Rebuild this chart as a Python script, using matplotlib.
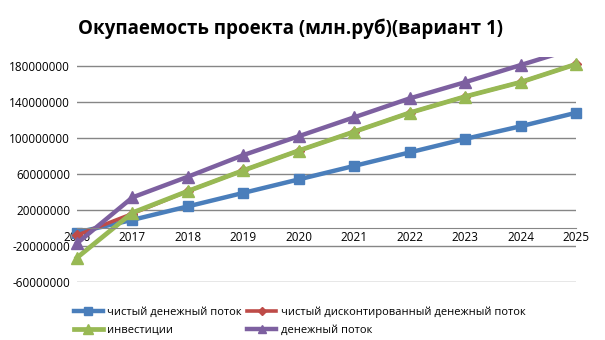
import numpy as np
import matplotlib
matplotlib.use('Agg')
import matplotlib.pyplot as plt
from matplotlib.patches import Rectangle
from matplotlib.ticker import FuncFormatter

plt.rcParams['font.family'] = ['Open Sans', 'Noto Sans', 'DejaVu Sans']

#%% Data (rub)
years = ['2016', '2017', '2018', '2019', '2020', '2021', '2022', '2023', '2024', '2025']
net_cf = [-5e6, 9e6, 24e6, 39e6, 54e6, 69e6, 84e6, 99e6, 113e6, 128e6]
disc_cf = [-8e6, 16e6, 41e6, 64e6, 86e6, 107e6, 128e6, 146e6, 162e6, 182e6]
invest = [-33e6, 17e6, 41e6, 64e6, 86e6, 107e6, 128e6, 146e6, 162e6, 182e6]
cash_flow = [-17e6, 34e6, 57e6, 81e6, 102e6, 123e6, 144e6, 162e6, 181e6, 200e6]

labels = ['чистый денежный поток', 'чистый дисконтированный денежный поток',
          'инвестиции', 'денежный поток']
colors = ['#4A7EBB', '#BE4B48', '#98B954', '#7D60A0']

#%% Plot
fig = plt.figure(figsize=(6.05, 3.4), dpi=100)
ax = fig.add_axes([77/605, 58/340, 499/605, 225/340])

x = np.arange(len(years))
l1, = ax.plot(x, net_cf, color=colors[0], lw=3.2, marker='s', ms=7, label=labels[0])
l2, = ax.plot(x, disc_cf, color=colors[1], lw=2.6, marker='D', ms=5, label=labels[1])
l3, = ax.plot(x, invest, color=colors[2], lw=3.4, marker='^', ms=9, label=labels[2])
l4, = ax.plot(x, cash_flow, color=colors[3], lw=3.2, marker='^', ms=8, label=labels[3])

# clip only at the top/bottom so the end markers are not cut in half
clip = Rectangle((-0.05, 0), 1.1, 1, transform=ax.transAxes)
for ln in (l1, l2, l3, l4):
    ln.set_clip_path(clip)

ax.set_xlim(0, 9)
ax.set_ylim(-60e6, 190e6)
ax.set_yticks(np.arange(-60e6, 181e6, 40e6))
ax.yaxis.set_major_formatter(FuncFormatter(lambda v, p: f'{v:.0f}'))
ax.set_xticks(x)
ax.set_xticklabels(years)
ax.grid(axis='y', color='#868686', lw=1)
ax.set_axisbelow(True)

for s in ['top', 'right', 'left']:
    ax.spines[s].set_visible(False)
ax.spines['bottom'].set_position(('data', 0))
ax.spines['bottom'].set_color('#868686')
ax.tick_params(axis='y', length=0, pad=5, labelsize=8.5)
ax.tick_params(axis='x', length=0, pad=2, labelsize=8.5)

fig.text(0.48, 0.915, 'Окупаемость проекта (млн.руб)(вариант 1)', ha='center', va='center',
         fontsize=13.5, fontweight='bold')

fig.legend(handles=[l1, l3, l2, l4], loc='center', bbox_to_anchor=(0.495, 0.055), ncol=2,
           frameon=False, fontsize=8, handlelength=2.6, columnspacing=0.5,
           labelspacing=0.6, handletextpad=0.4, markerscale=0.8)

fig.savefig('out.png', dpi=100)
